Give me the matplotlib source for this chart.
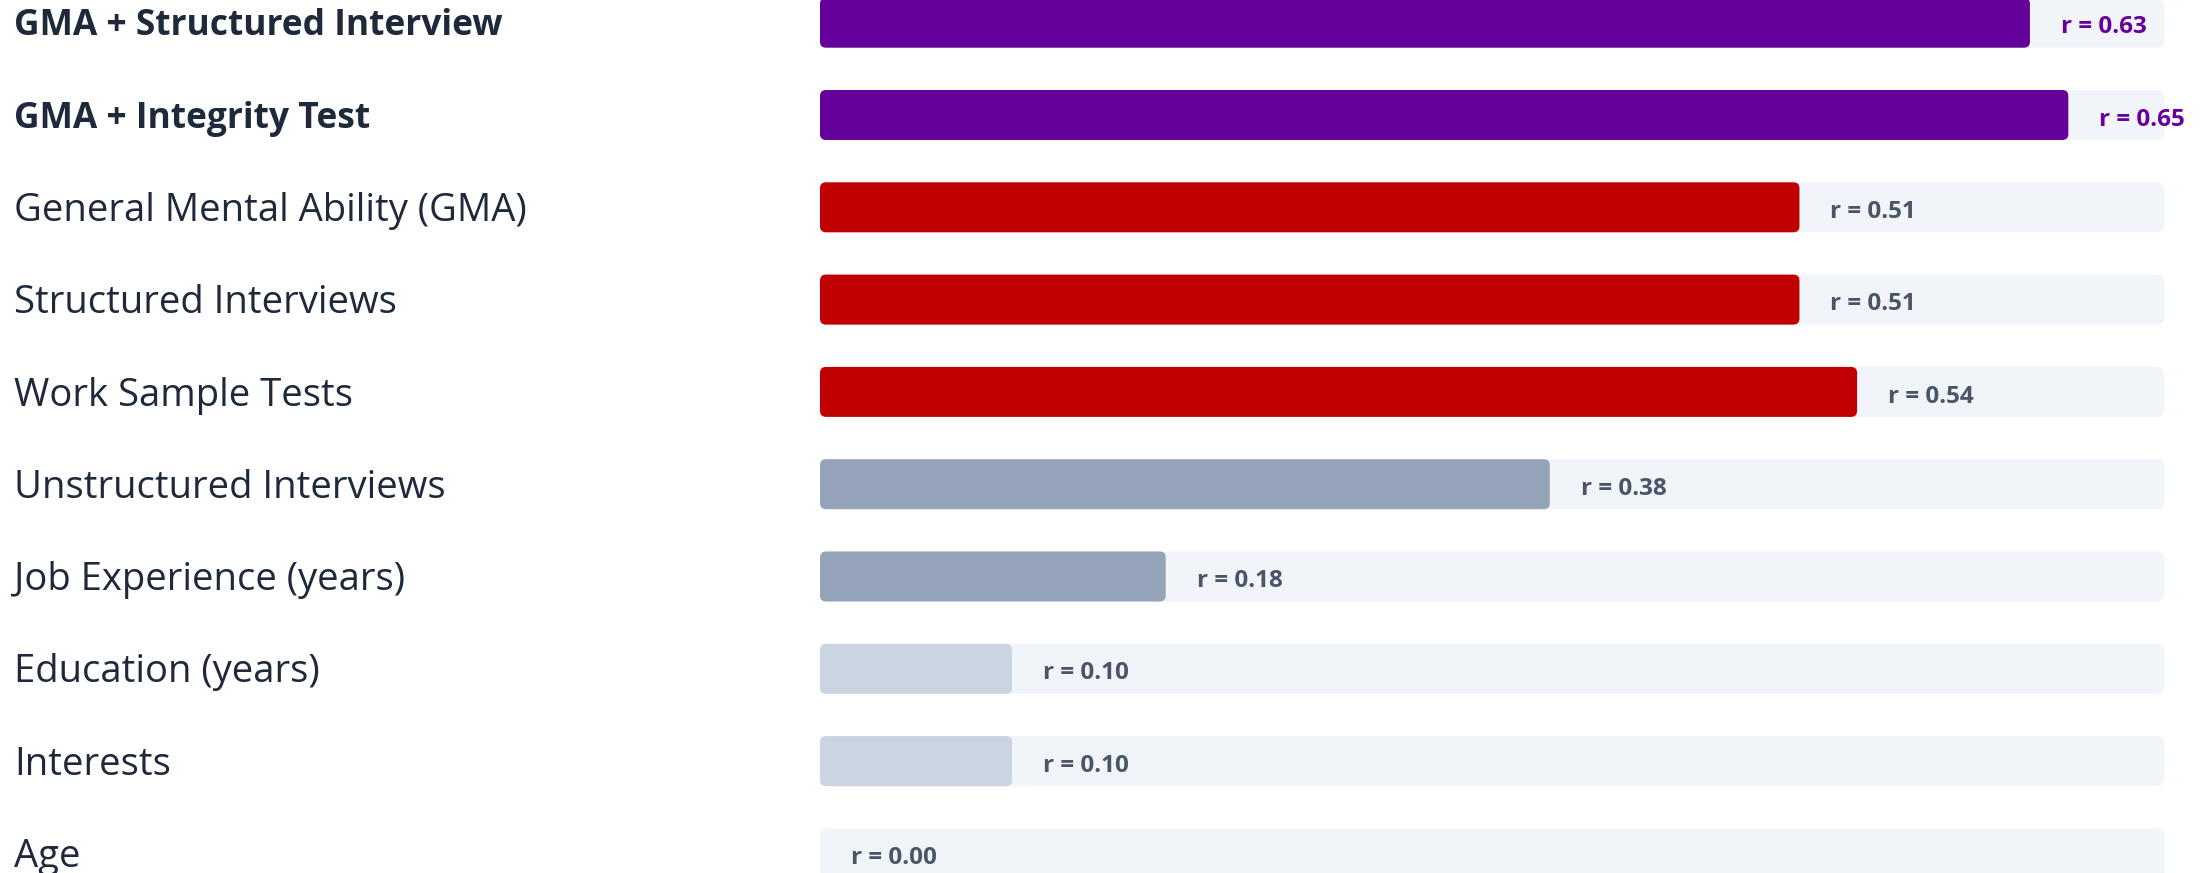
import matplotlib
matplotlib.use("Agg")
import matplotlib.pyplot as plt
from matplotlib.patches import FancyBboxPatch

# data
labels = ["GMA + Structured Interview", "GMA + Integrity Test",
          "General Mental Ability (GMA)", "Structured Interviews",
          "Work Sample Tests", "Unstructured Interviews",
          "Job Experience (years)", "Education (years)", "Interests", "Age"]
values = [0.63, 0.65, 0.51, 0.51, 0.54, 0.38, 0.18, 0.10, 0.10, 0.00]
groups = ["combo", "combo", "top", "top", "top", "mid", "mid", "low", "low", "low"]

bar_colors = {"combo": "#66009a", "top": "#c00000", "mid": "#94a3b8", "low": "#cbd5e1"}
text_colors = {"combo": "#66009a", "top": "#4a5568", "mid": "#4a5568", "low": "#4a5568"}
track_color = "#f1f4f9"
label_color = "#1e293b"
x_max = 0.70

W, H = 2208, 873
fig = plt.figure(figsize=(W / 100, H / 100), dpi=100)
ax = fig.add_axes([0, 0, 1, 1])

# pixel geometry -> data limits
px_per_x = 1920.5
row_px = 92.3
x0_px = 820
first_center = 22.7
ax.set_xlim(-x0_px / px_per_x, (W - x0_px) / px_per_x)
ax.set_ylim((H - first_center) / row_px, -first_center / row_px)
ax.axis("off")

bar_h = 50 / row_px
aspect = px_per_x / row_px


def rounded(x, y, w, h, r_px, color, z):
    p = FancyBboxPatch((x, y), w, h,
                       boxstyle="round,pad=0,rounding_size=%f" % (r_px / px_per_x),
                       mutation_aspect=aspect, fc=color, ec="none", zorder=z)
    ax.add_patch(p)


for i, (lab, v, g) in enumerate(zip(labels, values, groups)):
    y = i - bar_h / 2
    rounded(0, y, x_max, bar_h, 8, track_color, 1)
    if v > 0:
        rounded(0, y, v, bar_h, 6, bar_colors[g], 2)
    ax.text(v + 31 / px_per_x, i + 0.05, "r = %.2f" % v, ha="left", va="center",
            fontsize=17.5, fontweight="bold", family="Open Sans",
            color=text_colors[g], zorder=3, clip_on=False)
    bold = g == "combo"
    ax.text(14 / W, i + 0.04, lab, transform=ax.get_yaxis_transform(),
            ha="left", va="center", fontsize=25.5 if bold else 27.5,
            fontweight="bold" if bold else "normal", family="Open Sans",
            color=label_color)

fig.savefig("out.png", dpi=100, facecolor="white")
